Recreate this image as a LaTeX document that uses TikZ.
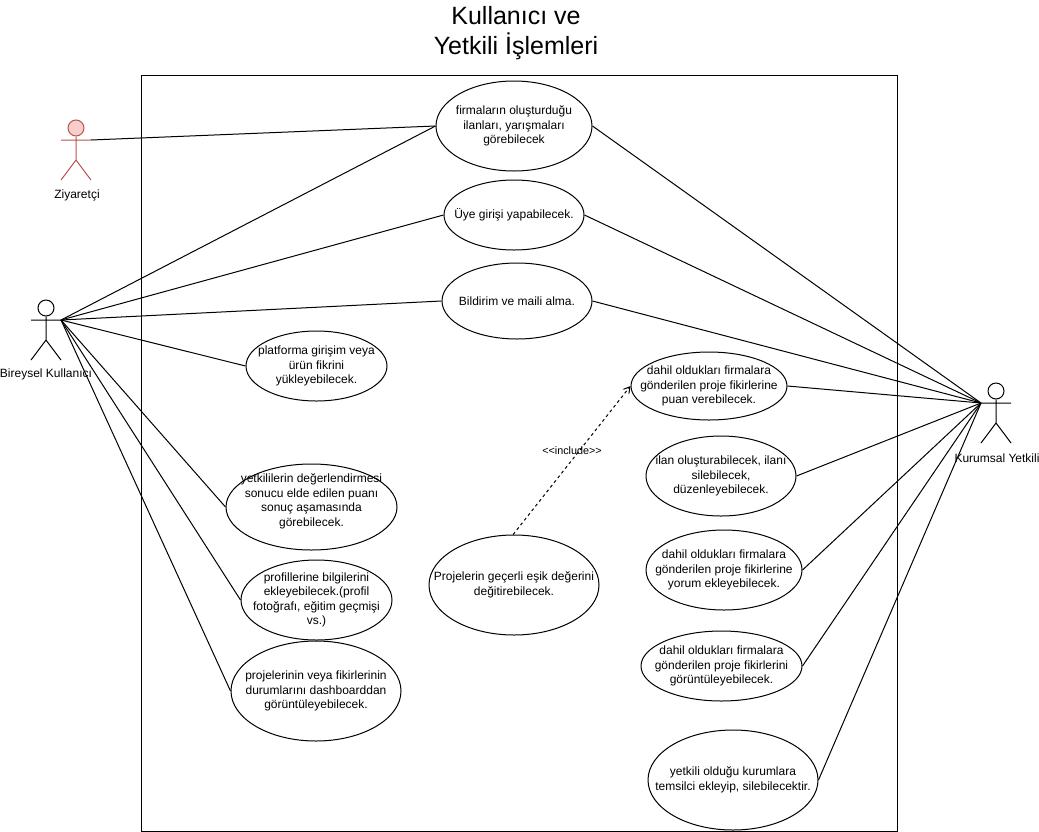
\documentclass[tikz,border=0pt]{standalone}
\usepackage{fontspec}
\setmainfont{Liberation Sans}
\usetikzlibrary{arrows.meta,shapes.geometric}
\definecolor{actorred}{HTML}{B85450}
\definecolor{actorpink}{HTML}{F8CECC}
\tikzset{
usecase/.style={draw,ellipse,fill=white,inner sep=-200pt,align=center,font=\fontsize{12}{14.5}\selectfont},
actorlabel/.style={inner sep=0pt,align=center,font=\fontsize{12}{14.5}\selectfont},
plainactor/.style={draw=black},
redactor/.style={draw=actorred},
redhead/.style={fill=actorpink},
plainhead/.style={},
actor/.pic={
\node[circle,minimum size=16pt,inner sep=0pt,#1actor,#1head] (-head) at (0,-12) {};
\coordinate (-left) at (-15,0);
\coordinate (-right) at (15,0);
\draw[#1actor] (-head) -- (0,20) (-left) -- (-right) (-15,40) -- (0,20) -- (15,40);
}
}
\begin{document}
\begin{tikzpicture}[x=1pt,y=-1pt,line width=1pt]
\useasboundingbox (0,0) rectangle (1039,831);
\node[align=center,font=\fontsize{25}{30}\selectfont] (title) at (516,33) {Kullanıcı ve\\Yetkili İşlemleri};
\node[draw,minimum width=756pt,minimum height=756pt,inner sep=0pt] (frame) at (519,453) {};
% actors
\pic (ziyaretci) at (76,140) {actor=red};
\pic (bireysel) at (46,320) {actor=plain};
\pic (kurumsal) at (996,403) {actor=plain};
\node[actorlabel] (ziyaretciL) at (77,195) {Ziyaretçi};
\node[actorlabel] (bireyselL) at (46,374) {Bireysel Kullanıcı};
\node[actorlabel] (kurumsalL) at (997,458) {Kurumsal Yetkili};
% use cases
\node[usecase,minimum width=156pt,minimum height=90pt] (ilanlar) at (514,126) {firmaların oluşturduğu\\ilanları, yarışmaları\\görebilecek};
\node[usecase,minimum width=140pt,minimum height=70pt] (giris) at (514,215) {Üye girişi yapabilecek.};
\node[usecase,minimum width=150pt,minimum height=76pt] (bildirim) at (517,301) {Bildirim ve maili alma.};
\node[usecase,minimum width=141pt,minimum height=70pt] (yukle) at (316.5,366) {platforma girişim veya\\ürün fikrini\\yükleyebilecek.};
\node[usecase,minimum width=171pt,minimum height=86pt] (puan) at (311.5,507) {yetkililerin değerlendirmesi\\sonucu elde edilen puanı\\sonuç aşamasında\\görebilecek.\\[-5pt]\strut};
\node[usecase,minimum width=151pt,minimum height=80pt] (profil) at (316.5,600) {profillerine bilgilerini\\ekleyebilecek.(profil\\fotoğrafı, eğitim geçmişi\\vs.)};
\node[usecase,minimum width=170pt,minimum height=100pt] (durum) at (316,691) {projelerinin veya fikirlerinin\\durumlarını dashboarddan\\görüntüleyebilecek.};
\node[usecase,minimum width=156pt,minimum height=68pt] (oyla) at (709,386) {dahil oldukları firmalara\\gönderilen proje fikirlerine\\puan verebilecek.};
\node[usecase,minimum width=150pt,minimum height=80pt] (ilan) at (721,476) {ilan oluşturabilecek, ilanı\\silebilecek,\\düzenleyebilecek.};
\node[usecase,minimum width=156pt,minimum height=80pt] (yorum) at (724,570) {dahil oldukları firmalara\\gönderilen proje fikirlerine\\yorum ekleyebilecek.};
\node[usecase,minimum width=161pt,minimum height=70pt] (goruntu) at (721.5,666) {dahil oldukları firmalara\\gönderilen proje fikirlerini\\görüntüleyebilecek.};
\node[usecase,minimum width=170pt,minimum height=100pt] (temsilci) at (733,780) {yetkili olduğu kurumlara\\temsilci ekleyip, silebilecektir.};
\node[usecase,minimum width=170pt,minimum height=100pt] (esik) at (514,585) {Projelerin geçerli eşik değerini\\değitirebilecek.};
% connectors
\path
(ziyaretci-right) edge (ilanlar.west)
(bireysel-right) edge (ilanlar.west)
(bireysel-right) edge (giris.west)
(bireysel-right) edge (bildirim.west)
(bireysel-right) edge (yukle.west)
(bireysel-right) edge (puan.west)
(bireysel-right) edge (profil.west)
(bireysel-right) edge (durum.west)
(kurumsal-left) edge (ilanlar.east)
(kurumsal-left) edge (giris.east)
(kurumsal-left) edge (bildirim.east)
(kurumsal-left) edge (oyla.east)
(kurumsal-left) edge (ilan.east)
(kurumsal-left) edge (yorum.east)
(kurumsal-left) edge (goruntu.east)
(kurumsal-left) edge (temsilci.east);
\draw[-{Straight Barb[length=6pt,width=7pt]},dash pattern=on 3pt off 3pt] (esik.91) -- (oyla.west);
\node[font=\fontsize{10.8}{12}\selectfont,inner sep=0pt] (include) at (572,451) {<{}<include>{}>};
\end{tikzpicture}
\end{document}
